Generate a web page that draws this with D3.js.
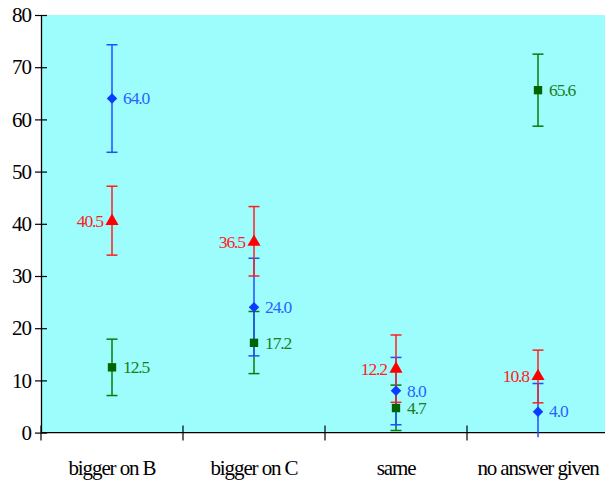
<!DOCTYPE html>
<html>
<head>
<meta charset="utf-8">
<script src="https://cdn.jsdelivr.net/npm/d3@7"></script>
<style>
  html, body { margin: 0; padding: 0; background: #fff; }
</style>
</head>
<body>
<svg id="chart" width="605" height="483"></svg>
<script>
// Categories along the x axis
const categories = ["bigger on B", "bigger on C", "same", "no answer given"];
const yTicks = [0, 10, 20, 30, 40, 50, 60, 70, 80];

// Mean values with lower / upper error limits, one array per series
const blueValues = [64.0, 24.0, 8.0, 4.0];
const blueLow    = [53.7, 14.7, 1.5, -0.9];
const blueHigh   = [74.3, 33.4, 14.4, 9.4];

const redValues  = [40.5, 36.5, 12.2, 10.8];
const redLow     = [34.0, 30.0, 5.8, 5.7];
const redHigh    = [47.2, 43.3, 18.7, 15.8];

const greenValues = [12.5, 17.2, 4.7, 65.6];
const greenLow    = [7.1, 11.3, 0.4, 58.7];
const greenHigh   = [17.9, 23.2, 9.1, 72.5];

const FONT = "'Liberation Serif', 'DejaVu Serif', 'Times New Roman', serif";

// Diamond with equal width and height
const squareDiamond = {
  draw(ctx, size) {
    const r = Math.sqrt(size / 2);
    ctx.moveTo(0, -r); ctx.lineTo(r, 0); ctx.lineTo(0, r); ctx.lineTo(-r, 0); ctx.closePath();
  }
};

const series = [
  { key: "green", values: greenValues, low: greenLow, high: greenHigh,
    color: "#0a7a0a", fill: "#006400", label: "#1b7d1b", shape: d3.symbolSquare, size: 70, side: "right" },
  { key: "blue", values: blueValues, low: blueLow, high: blueHigh,
    color: "#1f4fff", fill: "#0a3cff", label: "#2a62ff", shape: squareDiamond, size: 55, side: "right" },
  { key: "red", values: redValues, low: redLow, high: redHigh,
    color: "#ff1f1f", fill: "#ff0000", label: "#ff2020", shape: d3.symbolTriangle, size: 75, side: "left" }
];

const svg = d3.select("#chart");
const margin = { left: 41, top: 15, right: -4, bottom: 50 };
const W = 605, H = 483;
const x = d3.scaleBand().domain(categories).range([margin.left, W - margin.right]).padding(0);
const y = d3.scaleLinear().domain([0, 80]).range([432.6, 15]);

// Plot background
svg.append("rect")
  .attr("x", margin.left).attr("y", y(80))
  .attr("width", (W - margin.right) - margin.left)
  .attr("height", y(0) - y(80))
  .attr("fill", "#9dfdfd");

// Y axis
const yAxis = d3.axisLeft(y).tickValues(yTicks).tickSizeInner(6).tickSizeOuter(0).tickPadding(5);
const gy = svg.append("g").attr("transform", `translate(${margin.left},0)`).call(yAxis);
gy.attr("font-family", FONT);
gy.select(".domain").attr("stroke", "#000").attr("stroke-width", 1.3);
gy.selectAll(".tick line").attr("x2", -6).attr("x1", 6).attr("stroke", "#000").attr("stroke-width", 1.2);
gy.selectAll(".tick text")
  .attr("x", -10)
  .attr("font-family", FONT)
  .attr("font-size", 21)
  .attr("letter-spacing", -1)
  .attr("fill", "#000");

// X axis: ticks at band boundaries
const gx = svg.append("g").attr("transform", `translate(0,${y(0)})`);
gx.append("line")
  .attr("x1", margin.left).attr("x2", W)
  .attr("stroke", "#000").attr("stroke-width", 1.3);
const boundaries = categories.map(c => x(c));
gx.selectAll("line.tick").data(boundaries).join("line")
  .attr("class", "tick")
  .attr("x1", d => d).attr("x2", d => d)
  .attr("y1", -7).attr("y2", 8)
  .attr("stroke", "#000").attr("stroke-width", 1.2);
gx.selectAll("text").data(categories).join("text")
  .attr("x", d => x(d) + x.bandwidth() / 2)
  .attr("y", 42)
  .attr("text-anchor", "middle")
  .attr("font-family", FONT)
  .attr("font-size", 21)
  .attr("letter-spacing", -1.1)
  .attr("fill", "#000")
  .text(d => d);

// Error bars, markers and value labels
const cap = 5.5;
series.forEach(s => {
  const g = svg.append("g").attr("class", "series-" + s.key);
  categories.forEach((c, i) => {
    const cx = x(c) + x.bandwidth() / 2;
    const lo = s.low[i], hi = s.high[i];
    g.append("line")
      .attr("x1", cx).attr("x2", cx)
      .attr("y1", y(hi)).attr("y2", y(lo))
      .attr("stroke", s.color).attr("stroke-width", 1.5);
    g.append("line")
      .attr("x1", cx - cap).attr("x2", cx + cap)
      .attr("y1", y(hi)).attr("y2", y(hi))
      .attr("stroke", s.color).attr("stroke-width", 1.5);
    if (lo >= 0) {
      g.append("line")
        .attr("x1", cx - cap).attr("x2", cx + cap)
        .attr("y1", y(lo)).attr("y2", y(lo))
        .attr("stroke", s.color).attr("stroke-width", 1.5);
    }
  });
});

series.forEach(s => {
  const g = svg.append("g").attr("class", "marks-" + s.key);
  categories.forEach((c, i) => {
    const cx = x(c) + x.bandwidth() / 2;
    const cy = y(s.values[i]);
    g.append("path")
      .attr("d", d3.symbol().type(s.shape).size(s.size)())
      .attr("transform", `translate(${cx},${cy})`)
      .attr("fill", s.fill);
    g.append("text")
      .attr("x", s.side === "right" ? cx + 11 : cx - 9)
      .attr("y", cy)
      .attr("dy", "0.33em")
      .attr("text-anchor", s.side === "right" ? "start" : "end")
      .attr("font-family", FONT)
      .attr("font-size", 17.5)
      .attr("letter-spacing", -1.1)
      .attr("fill", s.label)
      .text(s.values[i].toFixed(1));
  });
});
</script>
</body>
</html>
